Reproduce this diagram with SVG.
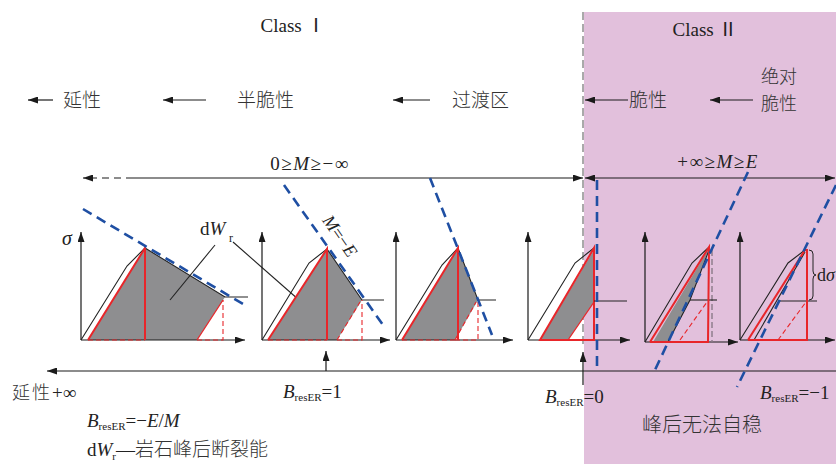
<svg xmlns="http://www.w3.org/2000/svg" width="836" height="468" viewBox="0 0 836 468">
<defs>
<marker id="ah" viewBox="0 0 10 7" refX="10" refY="3.5" markerWidth="10" markerHeight="7" markerUnits="userSpaceOnUse" orient="auto-start-reverse">
<path d="M0,0 L10,3.5 L0,7 z" fill="#1a1a1a"/>
</marker>
<style>
.t{font-family:"Liberation Serif","Noto Sans CJK SC",serif;fill:#222}
.cjk{font-family:"Noto Sans CJK SC","Liberation Serif",serif;fill:#333;font-weight:300}
.ax{stroke:#1a1a1a;stroke-width:1.2;fill:none}
.blk{stroke:#222;stroke-width:1.1;fill:none}
.red{stroke:#e8262a;stroke-width:2;fill:none}
.redt{stroke:#e8262a;stroke-width:1.3;fill:none}
.redd{stroke:#e8262a;stroke-width:1.1;fill:none;stroke-dasharray:5 3}
.blue{stroke:#1f4fa3;stroke-width:2.6;fill:none;stroke-dasharray:10 6}
.grey{fill:#8e8e90;stroke:none}
.arr{stroke:#1a1a1a;stroke-width:1.2;fill:none;marker-end:url(#ah)}
.it{font-style:italic}
</style>
</defs>
<rect x="0" y="0" width="836" height="468" fill="#ffffff"/>
<rect x="584" y="12" width="252" height="452" fill="#e2c0dc"/>
<line x1="583" y1="12" x2="583" y2="345" stroke="#555" stroke-width="1" stroke-dasharray="8 4"/>

<!-- headings -->
<text class="t" x="293" y="32" font-size="19" text-anchor="middle">Class Ⅰ</text>
<text class="t" x="705" y="36" font-size="19" text-anchor="middle">Class Ⅱ</text>

<g id="connectors">
<line class="arr" x1="53" y1="100" x2="28" y2="100"/>
<line class="arr" x1="206" y1="100" x2="163" y2="100"/>
<line class="arr" x1="430" y1="100" x2="393" y2="100"/>
<line class="arr" x1="628" y1="100" x2="585" y2="100"/>
<line class="arr" x1="753" y1="100" x2="710" y2="100"/>
<line class="arr" x1="133" y1="178" x2="83" y2="178" stroke-dasharray="7 5"/>
<line class="arr" x1="133" y1="178" x2="583" y2="178"/>
<line x1="585" y1="178" x2="835" y2="178" stroke="#1a1a1a" stroke-width="1.2" marker-start="url(#ah)" marker-end="url(#ah)"/>
<line class="arr" x1="836" y1="371" x2="47" y2="371"/>
<line class="arr" x1="326" y1="371" x2="326" y2="351"/>
<line class="arr" x1="583" y1="385" x2="583" y2="352"/>
</g>

<!-- row labels -->
<text class="cjk" x="63" y="107" font-size="19">延性</text>
<text class="cjk" x="237" y="107" font-size="19">半脆性</text>
<text class="cjk" x="452" y="107" font-size="19">过渡区</text>
<text class="cjk" x="629" y="107" font-size="19">脆性</text>
<text class="cjk" x="761" y="83" font-size="18">绝对</text>
<text class="cjk" x="761" y="110" font-size="18">脆性</text>

<text class="t" x="310" y="170" font-size="19" letter-spacing="1.5" text-anchor="middle">0≥<tspan class="it">M</tspan>≥−∞</text>
<text class="t" x="718" y="168" font-size="19" letter-spacing="1.5" text-anchor="middle">+∞≥<tspan class="it">M</tspan>≥<tspan class="it">E</tspan></text>

<g id="chart1">
<polygon class="grey" points="88,340 145,248 225,297 197,340"/>
<line class="ax" x1="81" y1="340" x2="81" y2="232" marker-end="url(#ah)"/>
<line class="ax" x1="81" y1="340" x2="245" y2="340" marker-end="url(#ah)"/>
<polyline class="blk" points="81,340 127,266 145,248 225,297 248,297"/>
<polyline class="red" points="88,340 145,248 145,340"/>
<line class="redd" x1="88" y1="340" x2="145" y2="340"/>
<line class="redt" x1="197" y1="340" x2="223" y2="300"/>
<polyline class="redd" points="197,340 223,340 223,300"/>
<line class="blue" x1="83" y1="209" x2="248" y2="307"/>
<text class="t it" x="62" y="245" font-size="20">σ</text>
</g>

<g id="label-dWr">
<text class="t" x="200" y="235" font-size="19">d<tspan class="it">W</tspan></text>
<text class="t" x="229" y="242" font-size="12">r</text>
<line class="blk" x1="170" y1="300" x2="215" y2="245"/>
<line class="blk" x1="233" y1="242" x2="307" y2="307"/>
</g>

<g id="chart2">
<polygon class="grey" points="268,340 327,249 362,300 337,340"/>
<line class="ax" x1="262" y1="340" x2="262" y2="232" marker-end="url(#ah)"/>
<line class="ax" x1="262" y1="340" x2="390" y2="340" marker-end="url(#ah)"/>
<polyline class="blk" points="262,340 309,263 327,249 362,300 384,300"/>
<polyline class="red" points="268,340 327,249 327,340"/>
<line class="redd" x1="268" y1="340" x2="327" y2="340"/>
<line class="redd" x1="337" y1="340" x2="360" y2="302"/>
<polyline class="redd" points="337,340 362,340 362,300"/>
<line class="blue" x1="284" y1="185" x2="383" y2="325"/>
<text class="t" transform="translate(340,236) rotate(55)" x="0" y="6" font-size="18" text-anchor="middle"><tspan class="it">M</tspan>=−<tspan class="it">E</tspan></text>
</g>

<g id="chart3">
<polygon class="grey" points="402,340 458,248 478,300 455,340"/>
<line class="ax" x1="396" y1="340" x2="396" y2="232" marker-end="url(#ah)"/>
<line class="ax" x1="396" y1="340" x2="513" y2="340" marker-end="url(#ah)"/>
<polyline class="blk" points="396,340 442,265 458,248 478,300 496,300"/>
<polyline class="red" points="402,340 458,248 458,340"/>
<line class="redd" x1="402" y1="340" x2="458" y2="340"/>
<line class="redd" x1="455" y1="340" x2="476" y2="302"/>
<polyline class="redd" points="455,340 478,340 478,300"/>
<line class="blue" x1="430" y1="178" x2="492" y2="335"/>
</g>

<g id="chart4">
<polygon class="grey" points="540,340 594,250 594,302 568,340"/>
<line class="ax" x1="528" y1="340" x2="528" y2="232" marker-end="url(#ah)"/>
<line class="ax" x1="528" y1="340" x2="630" y2="340" marker-end="url(#ah)"/>
<polyline class="blk" points="528,340 575,263 594,248"/>
<polygon class="red" points="540,340 594,248 594,340"/>
<line class="redt" x1="568" y1="340" x2="594" y2="302"/>
<line class="blk" x1="594" y1="301" x2="627" y2="301"/>
<line class="blue" x1="597" y1="180" x2="597" y2="372"/>
</g>

<g id="chart5">
<polygon class="grey" points="653,342 709,248 690,300 668,342"/>
<line class="ax" x1="645" y1="342" x2="645" y2="232" marker-end="url(#ah)"/>
<line class="ax" x1="645" y1="342" x2="738" y2="342" marker-end="url(#ah)"/>
<polyline class="blk" points="645,342 692,263 708,248"/>
<polyline class="blk" points="668,342 690,300 709,250"/>
<line x1="712" y1="250" x2="712" y2="342" stroke="#8a7a88" stroke-width="1.4" stroke-dasharray="6 3"/>
<line class="blk" x1="690" y1="300" x2="717" y2="300"/>
<line class="redd" x1="680" y1="340" x2="707" y2="302"/>
<polyline class="red" points="650,342 709,247 708,342 650,342"/>
<line class="blue" x1="748" y1="172" x2="655" y2="370"/>
</g>

<g id="chart6">
<line class="ax" x1="740" y1="340" x2="740" y2="232" marker-end="url(#ah)"/>
<line class="ax" x1="740" y1="340" x2="835" y2="340" marker-end="url(#ah)"/>
<polyline class="blk" points="740,340 788,263 805,250"/>
<line class="blk" x1="754" y1="340" x2="805" y2="252"/>
<line class="blk" x1="778" y1="301" x2="817" y2="301"/>
<line class="redd" x1="778" y1="340" x2="806" y2="302"/>
<polyline class="red" points="748,340 805,250 807,250 807,340 748,340"/>
<path d="M809,250 q4,0 4,4 v17 q0,4 3,4 q-3,0 -3,4 v17 q0,4 -4,4" fill="none" stroke="#222" stroke-width="1"/>
<text class="t" x="817" y="281" font-size="18">d<tspan class="it">σ</tspan></text>
<line class="blue" x1="836" y1="185" x2="737" y2="387"/>
</g>

<!-- bottom labels -->
<text class="cjk" x="12" y="399" font-size="18" letter-spacing="2">延性<tspan class="t" font-size="19" letter-spacing="0">+∞</tspan></text>
<text class="t" x="283" y="398" font-size="19"><tspan class="it">B</tspan><tspan font-size="11" dy="3">resER</tspan><tspan dy="-3">=1</tspan></text>
<text class="t" x="545" y="403" font-size="19"><tspan class="it">B</tspan><tspan font-size="11" dy="3">resER</tspan><tspan dy="-3">=0</tspan></text>
<text class="t" x="760" y="399" font-size="19"><tspan class="it">B</tspan><tspan font-size="11" dy="3">resER</tspan><tspan dy="-3">=−1</tspan></text>
<text class="t" x="87" y="427" font-size="19"><tspan class="it">B</tspan><tspan font-size="11" dy="3">resER</tspan><tspan dy="-3">=−<tspan class="it">E</tspan>/<tspan class="it">M</tspan></tspan></text>
<text class="t" x="87" y="456" font-size="19">d<tspan class="it">W</tspan><tspan font-size="11" dy="4">r</tspan><tspan dy="-4">—</tspan><tspan class="cjk">岩石峰后断裂能</tspan></text>
<text class="cjk" x="642" y="432" font-size="20">峰后无法自稳</text>
</svg>
